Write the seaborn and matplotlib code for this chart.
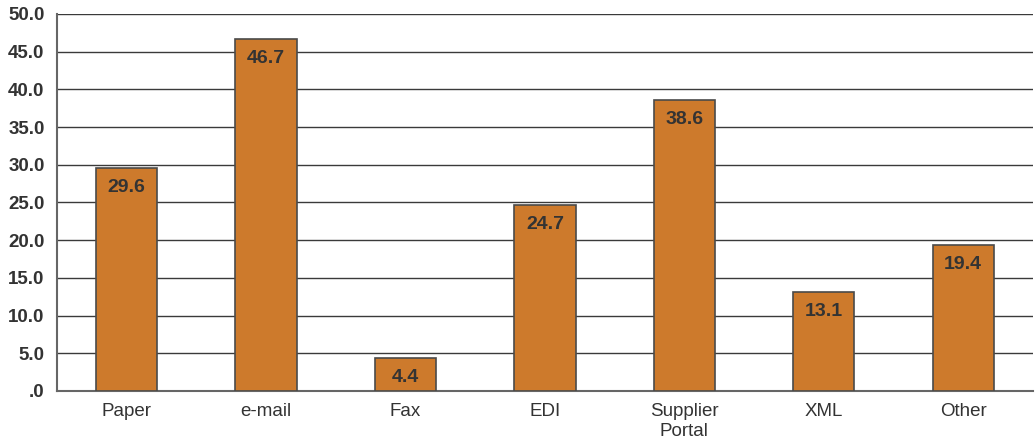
import matplotlib
matplotlib.use("Agg")
import matplotlib.pyplot as plt
import seaborn as sns
import pandas as pd
import numpy as np
from matplotlib.ticker import FixedLocator, FuncFormatter

categories = ["Paper", "e-mail", "Fax", "EDI", "Supplier\nPortal", "XML", "Other"]
values = [29.6, 46.7, 4.4, 24.7, 38.6, 13.1, 19.4]

sns.set_style("white")
plt.rcParams["font.family"] = ["Liberation Sans", "DejaVu Sans"]

df = pd.DataFrame({"channel": categories, "pct": values})

fig = plt.figure(figsize=(10.35, 4.47), dpi=100)
ax = fig.add_axes([0.0551, 0.1253, 0.9429, 0.8434])

bar_color = "#CD7A2C"
edge = "#4a4a4a"
sns.barplot(data=df, x="channel", y="pct", color=bar_color, width=0.44,
            edgecolor=edge, linewidth=1.2, saturation=1, ax=ax, zorder=3)

ax.set_ylim(0, 50)
ax.set_xlim(-0.5, len(categories) - 0.5)
ax.set_yticks(np.arange(0, 50.1, 5))
ax.yaxis.set_major_formatter(FuncFormatter(lambda v, p: ".0" if v == 0 else f"{v:.1f}"))
ax.yaxis.grid(True, color="#3a3a3a", linewidth=1.0, zorder=0)
ax.set_axisbelow(True)

ax.set_xlabel("")
ax.set_ylabel("")

for lab in ax.get_yticklabels():
    lab.set_fontweight("bold")
    lab.set_fontsize(13.5)
    lab.set_color("#333333")
ax.tick_params(axis="y", length=5, width=1, color="#555555", pad=4)

# category labels centred, tick marks at category boundaries
ax.tick_params(axis="x", which="major", length=0, labelsize=13.5, labelcolor="#333333", pad=9)
ax.xaxis.set_minor_locator(FixedLocator(np.arange(-0.5, len(categories), 1.0)))
ax.tick_params(axis="x", which="minor", length=6, width=1, color="#555555")

for s in ["top", "right"]:
    ax.spines[s].set_visible(False)
for s in ["left", "bottom"]:
    ax.spines[s].set_color("#666666")
    ax.spines[s].set_linewidth(1.5)

for i, v in enumerate(values):
    ax.annotate(f"{v:.1f}", (i, v), xytext=(0, -14), textcoords="offset points",
                ha="center", va="center", fontsize=14, fontweight="bold",
                color="#333333", zorder=4)

fig.savefig("out.png", dpi=100)
